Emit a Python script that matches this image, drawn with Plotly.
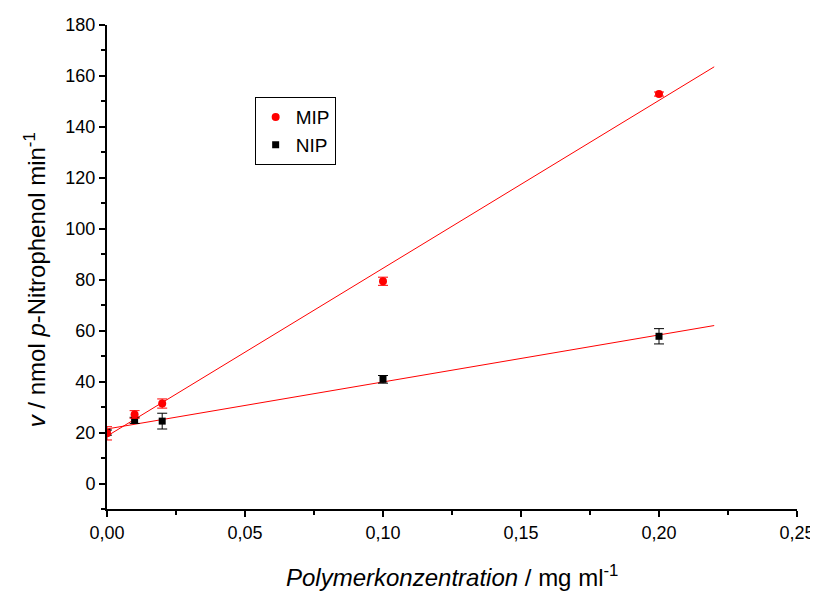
import numpy as np
import plotly.graph_objects as go

conc = [0.0, 0.01, 0.02, 0.10, 0.20]
mip = [19.7, 27.1, 31.4, 79.4, 152.9]
mip_err = [2.6, 1.5, 1.8, 1.6, 0.8]
nip = [20.0, 24.8, 24.5, 40.9, 57.8]
nip_err = [1.0, 1.2, 3.1, 1.5, 3.0]
fit_x_end = 0.22

fig = go.Figure()

# regression lines
for ys in (mip, nip):
    k, d = np.polyfit(conc, ys, 1)
    xs = [0.0, fit_x_end]
    fig.add_trace(go.Scatter(x=xs, y=[d + k * v for v in xs], mode="lines",
                             line=dict(color="red", width=1), showlegend=False,
                             hoverinfo="skip"))

fig.add_trace(go.Scatter(x=conc, y=nip, mode="markers", name="NIP",
                         marker=dict(symbol="square", size=7, color="black"),
                         error_y=dict(type="data", array=nip_err, color="black",
                                      thickness=1, width=5)))
fig.add_trace(go.Scatter(x=conc, y=mip, mode="markers", name="MIP",
                         marker=dict(symbol="circle", size=8, color="red"),
                         error_y=dict(type="data", array=mip_err, color="red",
                                      thickness=1, width=5)))

axis_common = dict(showgrid=False, zeroline=False, showline=True, linecolor="black",
                   linewidth=2, ticks="outside", ticklen=6, tickwidth=1.5,
                   tickcolor="black", tickfont=dict(size=18, color="black"),
                   mirror=False, automargin=False)

fig.update_xaxes(range=[0, 0.25], dtick=0.05, tick0=0, tickformat=".2f",
                 minor=dict(ticks="outside", ticklen=4, tickwidth=1.5, dtick=0.025,
                            tickcolor="black"),
                 **axis_common)
fig.update_yaxes(range=[-10, 180], dtick=20, tick0=0,
                 minor=dict(ticks="outside", ticklen=4, tickwidth=1.5, dtick=10,
                            tickcolor="black"),
                 **axis_common)

fig.add_annotation(text="<i>Polymerkonzentration</i> / mg ml<sup>-1</sup>",
                   x=0.5, xref="paper", y=-0.139, yref="paper", yanchor="middle",
                   showarrow=False, font=dict(size=24, color="black"))
fig.add_annotation(text="<i>v</i> / nmol <i>p</i>-Nitrophenol min<sup>-1</sup>",
                   x=-0.104, xref="paper", y=0.473, yref="paper", xanchor="center",
                   yanchor="middle", textangle=-90,
                   showarrow=False, font=dict(size=24, color="black"))

fig.update_layout(
    width=810, height=585,
    margin=dict(l=99, r=21, t=17, b=84),
    paper_bgcolor="white", plot_bgcolor="white",
    separators=",.",
    font=dict(family="Liberation Sans, Arial, sans-serif", color="black"),
    legend=dict(x=0.214, y=0.851, xanchor="left", yanchor="top",
                bordercolor="black", borderwidth=1, bgcolor="white",
                font=dict(size=19, color="black"), traceorder="reversed",
                itemwidth=30, tracegroupgap=0),
)

fig.write_html("out.html")
